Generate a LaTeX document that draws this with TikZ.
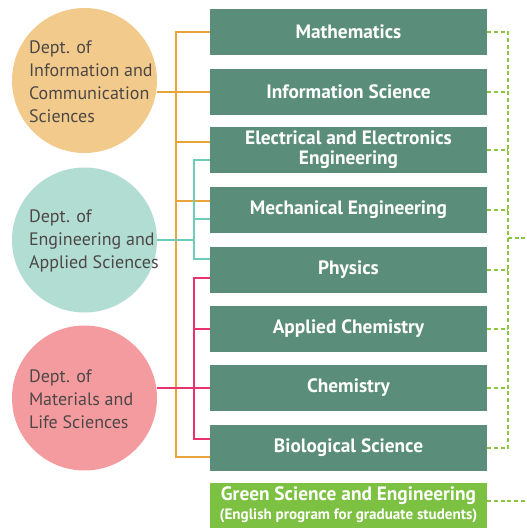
\documentclass[tikz,border=0pt]{standalone}
\usepackage{fontspec}
\setmainfont{PT Sans}
\usetikzlibrary{calc}
\definecolor{boxgreen}{RGB}{91,142,122}
\definecolor{litegreen}{RGB}{125,193,66}
\definecolor{dashgreen}{RGB}{140,198,63}
\definecolor{orgfill}{RGB}{242,203,140}
\definecolor{tealfill}{RGB}{178,221,211}
\definecolor{pinkfill}{RGB}{244,155,160}
\definecolor{orgline}{RGB}{232,163,58}
\definecolor{tealline}{RGB}{109,205,184}
\definecolor{pinkline}{RGB}{232,51,110}
\definecolor{deptgray}{RGB}{77,72,70}

\begin{document}
\begin{tikzpicture}[x=0.75pt,y=-0.75pt,
    dept/.style={circle, minimum size=108.75pt, inner sep=0pt},
    depttext/.style={anchor=west, align=left, inner sep=0pt, text=deptgray, font=\fontsize{13.5}{17.25}\selectfont},
    course/.style={fill=boxgreen, minimum width=207.75pt, minimum height=34.5pt, inner sep=0pt, text=white, align=center, font=\bfseries\fontsize{14.5}{15}\selectfont},
    link/.style={line width=1.1pt},
    glink/.style={line width=1.1pt, dashgreen, dash pattern=on 3pt off 2pt}]
  \useasboundingbox (0,0) rectangle (526,528);

  % departments
  \node[dept, fill=orgfill] (infoc) at (84.5,80.5) {};
  \node[dept, fill=tealfill] (engc) at (84.5,240) {};
  \node[dept, fill=pinkfill] (matc) at (84.5,398) {};
  \node[depttext] (infot) at ($(infoc.west)+(17,1)$) {Dept. of\\Information and\\Communication\\Sciences};
  \node[depttext] (engt) at ($(engc.west)+(17,1)$) {Dept. of\\Engineering and\\Applied Sciences};
  \node[depttext] (matt) at ($(matc.west)+(17,1)$) {Dept. of\\Materials and\\Life Sciences};

  % courses
  \node[course] (math) at (348.5,32) {Mathematics};
  \node[course] (info) at (348.5,92) {Information Science};
  \node[course] (elec) at (348.5,150) {Electrical and Electronics\\Engineering};
  \node[course] (mech) at (348.5,210) {Mechanical Engineering};
  \node[course] (phys) at (348.5,270) {Physics};
  \node[course] (achem) at (348.5,329) {Applied Chemistry};
  \node[course] (chem) at (348.5,388) {Chemistry};
  \node[course] (bio) at (348.5,448) {Biological Science};
  \node[course, fill=litegreen, minimum height=33.75pt] (green) at (348.5,505)
    {Green Science and Engineering\\[-1pt]{\fontsize{11.3}{12}\selectfont(English program for graduate students)}};

  % bus lines
  \coordinate (obus) at (176,0);
  \coordinate (tbus) at (194,0);
  \coordinate (gbus) at (508,0);
  \coordinate (edge) at (526,0);
  \coordinate (elec-o) at ($(elec.west)+(0,-8)$);
  \coordinate (elec-t) at ($(elec.west)+(0,10)$);
  \coordinate (mech-o) at ($(mech.west)+(0,-9)$);
  \coordinate (mech-t) at ($(mech.west)+(0,9)$);
  \coordinate (phys-t) at ($(phys.west)+(0,-11)$);
  \coordinate (phys-p) at ($(phys.west)+(0,8)$);
  \coordinate (bio-p) at ($(bio.west)+(0,-9)$);
  \coordinate (bio-o) at ($(bio.west)+(0,9)$);
  \coordinate (gmid) at (508,238);
  \coordinate (green-g) at ($(green.east)+(0,-4)$);

  % orange
  \draw[link, orgline] (math.west) -- (math.west -| obus) -- (bio-o -| obus) -- (bio-o);
  \draw[link, orgline] (infoc.east |- info.west) -- (info.west);
  \draw[link, orgline] (elec-o -| obus) -- (elec-o);
  \draw[link, orgline] (mech-o -| obus) -- (mech-o);
  % teal
  \draw[link, tealline] (elec-t) -- (elec-t -| tbus) -- (phys-t -| tbus) -- (phys-t);
  \draw[link, tealline] (mech-t -| tbus) -- (mech-t);
  \draw[link, tealline] (engc.east) -- (engc.east -| tbus);
  % pink
  \draw[link, pinkline] (phys-p) -- (phys-p -| tbus) -- (bio-p -| tbus) -- (bio-p);
  \draw[link, pinkline] (achem.west -| tbus) -- (achem.west);
  \draw[link, pinkline] (matc.east |- chem.west) -- (chem.west);

  % dashed green
  \draw[glink] (math.east) -- (math.east -| gbus) -- (bio.east -| gbus) -- (bio.east);
  \foreach \c in {info,elec,mech,phys,achem,chem}
    \draw[glink] (\c.east) -- (\c.east -| gbus);
  \draw[glink] (gmid) -- (gmid -| edge);
  \draw[glink] (green-g) -- (green-g -| edge);
\end{tikzpicture}
\end{document}
